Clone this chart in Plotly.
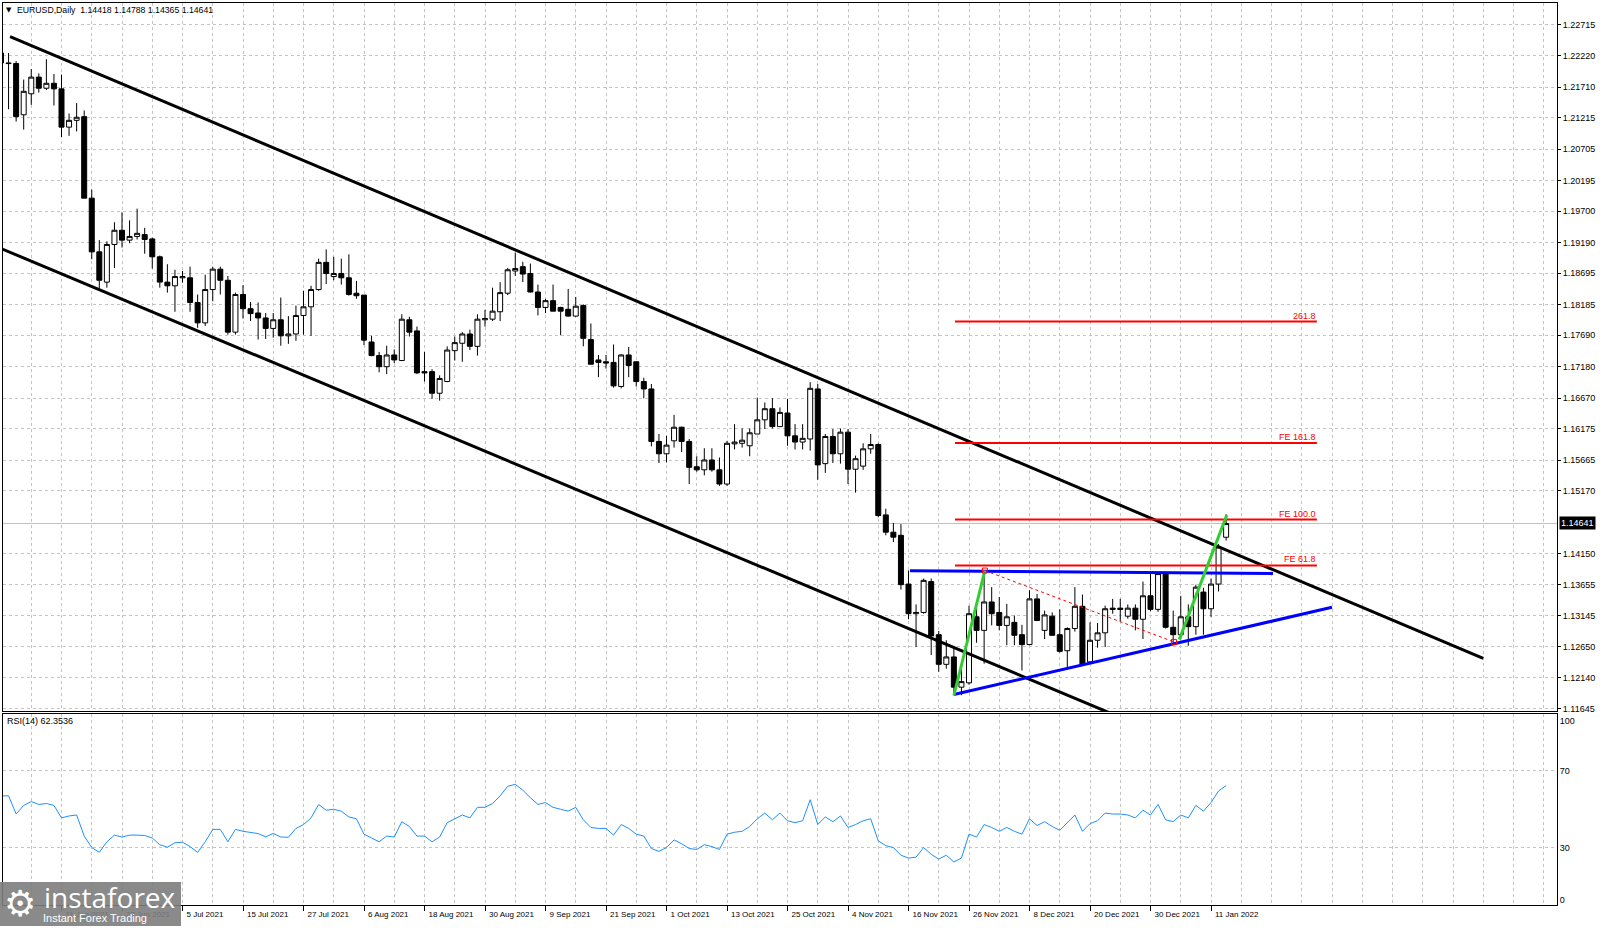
import pandas as pd
import plotly.graph_objects as go

# ---------------- data ----------------
dates = [d.strftime("%Y-%m-%d") for d in pd.bdate_range("2021-06-01", "2022-01-13")]

opens = [1.2226, 1.2210, 1.2209, 1.2126, 1.2160, 1.2187, 1.2169, 1.2177, 1.2168, 1.2106,
         1.2117, 1.2123, 1.1991, 1.1904, 1.1855, 1.1916, 1.1939, 1.1923, 1.1929, 1.1932,
         1.1925, 1.1896, 1.1855, 1.1849, 1.1862, 1.1862, 1.1822, 1.1789, 1.1843, 1.1876,
         1.1858, 1.1774, 1.1835, 1.1812, 1.1805, 1.1797, 1.1780, 1.1794, 1.1768, 1.1771,
         1.1801, 1.1815, 1.1843, 1.1887, 1.1864, 1.1869, 1.1862, 1.1837, 1.1834, 1.1758,
         1.1736, 1.1718, 1.1737, 1.1728, 1.1794, 1.1776, 1.1710, 1.1710, 1.1675, 1.1694,
         1.1744, 1.1756, 1.1771, 1.1751, 1.1794, 1.1795, 1.1807, 1.1837, 1.1873, 1.1880,
         1.1869, 1.1839, 1.1814, 1.1825, 1.1814, 1.1811, 1.1800, 1.1817, 1.1762, 1.1729,
         1.1726, 1.1725, 1.1686, 1.1737, 1.1726, 1.1694, 1.1682, 1.1597, 1.1577, 1.1598,
         1.1620, 1.1597, 1.1556, 1.1551, 1.1567, 1.1551, 1.1528, 1.1593, 1.1594, 1.1590,
         1.1609, 1.1632, 1.1650, 1.1621, 1.1643, 1.1606, 1.1596, 1.1601, 1.1682, 1.1561,
         1.1605, 1.1577, 1.1612, 1.1552, 1.1557, 1.1585, 1.1592, 1.1478, 1.1450, 1.1445,
         1.1366, 1.1318, 1.1320, 1.1370, 1.1284, 1.1236, 1.1248, 1.1199, 1.1206, 1.1313,
         1.1291, 1.1337, 1.1320, 1.1299, 1.1304, 1.1284, 1.1268, 1.1342, 1.1291, 1.1314,
         1.1284, 1.1258, 1.1294, 1.1330, 1.1240, 1.1275, 1.1287, 1.1327, 1.1327, 1.1314,
         1.1327, 1.1309, 1.1347, 1.1325, 1.1383, 1.1296, 1.1284, 1.1313, 1.1297, 1.1353,
         1.1326, 1.1366, 1.14418]

highs = [1.2253, 1.2226, 1.2213, 1.2183, 1.2200, 1.2193, 1.2216, 1.2192, 1.2191, 1.2128,
         1.2145, 1.2133, 1.2005, 1.1923, 1.1921, 1.1952, 1.1968, 1.1955, 1.1974, 1.1943,
         1.1927, 1.1898, 1.1884, 1.1875, 1.1873, 1.1880, 1.1835, 1.1867, 1.1880, 1.1880,
         1.1865, 1.1838, 1.1850, 1.1823, 1.1822, 1.1805, 1.1805, 1.1830, 1.1800, 1.1817,
         1.1841, 1.1849, 1.1893, 1.1908, 1.1896, 1.1893, 1.1900, 1.1857, 1.1834, 1.1768,
         1.1742, 1.1752, 1.1746, 1.1803, 1.1799, 1.1783, 1.1742, 1.1714, 1.1704, 1.1751,
         1.1767, 1.1774, 1.1778, 1.1803, 1.1810, 1.1846, 1.1855, 1.1878, 1.1903, 1.1888,
         1.1885, 1.1851, 1.1828, 1.1851, 1.1815, 1.1844, 1.1831, 1.1819, 1.1788, 1.1737,
         1.1737, 1.1754, 1.1738, 1.1750, 1.1727, 1.1700, 1.1690, 1.1609, 1.1606, 1.1640,
         1.1621, 1.1601, 1.1573, 1.1586, 1.1586, 1.1571, 1.1598, 1.1625, 1.1618, 1.1618,
         1.1668, 1.1660, 1.1667, 1.1652, 1.1666, 1.1625, 1.1625, 1.1693, 1.1690, 1.1609,
         1.1617, 1.1618, 1.1617, 1.1574, 1.1594, 1.1609, 1.1594, 1.1488, 1.1465, 1.1463,
         1.1388, 1.1333, 1.1375, 1.1375, 1.1290, 1.1275, 1.1264, 1.1228, 1.1331, 1.1330,
         1.1386, 1.1361, 1.1345, 1.1334, 1.1315, 1.1300, 1.1356, 1.1350, 1.1323, 1.1320,
         1.1325, 1.1296, 1.1361, 1.1349, 1.1304, 1.1303, 1.1331, 1.1342, 1.1342, 1.1333,
         1.1333, 1.1370, 1.1386, 1.1386, 1.1386, 1.1323, 1.1347, 1.1333, 1.1365, 1.1360,
         1.1375, 1.1431, 1.14788]

lows = [1.2204, 1.2135, 1.2115, 1.2102, 1.2142, 1.2162, 1.2166, 1.2141, 1.2090, 1.2092,
        1.2099, 1.1991, 1.1892, 1.1843, 1.1846, 1.1878, 1.1911, 1.1918, 1.1924, 1.1901,
        1.1877, 1.1846, 1.1838, 1.1807, 1.1854, 1.1807, 1.1781, 1.1784, 1.1824, 1.1835,
        1.1770, 1.1770, 1.1796, 1.1792, 1.1762, 1.1763, 1.1765, 1.1752, 1.1755, 1.1760,
        1.1770, 1.1768, 1.1841, 1.1852, 1.1858, 1.1851, 1.1833, 1.1828, 1.1753, 1.1735,
        1.1709, 1.1706, 1.1724, 1.1728, 1.1767, 1.1706, 1.1694, 1.1666, 1.1663, 1.1693,
        1.1728, 1.1726, 1.1745, 1.1736, 1.1783, 1.1792, 1.1792, 1.1834, 1.1865, 1.1855,
        1.1838, 1.1801, 1.1805, 1.1808, 1.1769, 1.1799, 1.1799, 1.1751, 1.1722, 1.1701,
        1.1715, 1.1684, 1.1683, 1.1701, 1.1686, 1.1667, 1.1589, 1.1562, 1.1563, 1.1587,
        1.1580, 1.1528, 1.1548, 1.1542, 1.1548, 1.1525, 1.1525, 1.1584, 1.1587, 1.1573,
        1.1609, 1.1617, 1.1618, 1.1621, 1.1590, 1.1584, 1.1584, 1.1582, 1.1535, 1.1546,
        1.1562, 1.1561, 1.1528, 1.1514, 1.1551, 1.1577, 1.1474, 1.1445, 1.1434, 1.1357,
        1.1309, 1.1264, 1.1318, 1.1251, 1.1224, 1.1229, 1.1186, 1.1186, 1.1203, 1.1271,
        1.1237, 1.1299, 1.1291, 1.1267, 1.1267, 1.1226, 1.1267, 1.1306, 1.1277, 1.1283,
        1.1255, 1.1228, 1.1289, 1.1236, 1.1237, 1.1263, 1.1264, 1.1318, 1.1306, 1.1310,
        1.1291, 1.1277, 1.1322, 1.1321, 1.1294, 1.1271, 1.1277, 1.1266, 1.1284, 1.1284,
        1.1313, 1.1354, 1.14365]

closes = [1.2210, 1.2209, 1.2123, 1.2164, 1.2187, 1.2169, 1.2177, 1.2168, 1.2106, 1.2117,
          1.2122, 1.1991, 1.1904, 1.1858, 1.1916, 1.1939, 1.1923, 1.1929, 1.1934, 1.1924,
          1.1896, 1.1855, 1.1849, 1.1864, 1.1864, 1.1822, 1.1789, 1.1843, 1.1876, 1.1858,
          1.1774, 1.1835, 1.1812, 1.1804, 1.1797, 1.1780, 1.1794, 1.1768, 1.1771, 1.1801,
          1.1815, 1.1843, 1.1887, 1.1869, 1.1869, 1.1862, 1.1835, 1.1833, 1.1761, 1.1736,
          1.1718, 1.1737, 1.1729, 1.1795, 1.1774, 1.1708, 1.1708, 1.1675, 1.1699, 1.1745,
          1.1757, 1.1771, 1.1751, 1.1795, 1.1796, 1.1808, 1.1838, 1.1875, 1.1877, 1.1868,
          1.1839, 1.1814, 1.1825, 1.1808, 1.1808, 1.1800, 1.1816, 1.1764, 1.1722, 1.1725,
          1.1724, 1.1687, 1.1737, 1.1720, 1.1694, 1.1682, 1.1597, 1.1577, 1.1591, 1.1620,
          1.1597, 1.1555, 1.1551, 1.1567, 1.1551, 1.1528, 1.1594, 1.1596, 1.1599, 1.1611,
          1.1632, 1.1650, 1.1621, 1.1644, 1.1606, 1.1596, 1.1602, 1.1683, 1.1559, 1.1605,
          1.1577, 1.1612, 1.1552, 1.1569, 1.1585, 1.1592, 1.1477, 1.1450, 1.1442, 1.1365,
          1.1318, 1.1320, 1.1372, 1.1282, 1.1236, 1.1248, 1.1199, 1.1208, 1.1318, 1.1291,
          1.1337, 1.1318, 1.1299, 1.1313, 1.1283, 1.1268, 1.1342, 1.1307, 1.1316, 1.1283,
          1.1257, 1.1294, 1.1330, 1.1236, 1.1275, 1.1287, 1.1326, 1.1325, 1.1325, 1.1327,
          1.1309, 1.1347, 1.1325, 1.1383, 1.1296, 1.1284, 1.1313, 1.1297, 1.1361, 1.1326,
          1.1366, 1.1426, 1.14641]

rsi_values = [57.0, 57.0, 47.5, 52.0, 54.0, 52.5, 53.0, 52.0, 45.5, 46.5,
              47.0, 36.0, 30.0, 27.5, 33.0, 36.5, 35.5, 36.5, 36.5, 36.3,
              35.0, 31.5, 30.2, 32.5, 32.8, 30.5, 27.5, 33.0, 39.5, 39.5,
              33.0, 39.5, 38.5, 37.8, 37.3, 35.6, 37.4, 35.5, 35.4, 40.0,
              42.0, 45.5, 52.5, 49.5, 50.0, 49.0, 46.0, 45.0, 37.0, 35.0,
              33.0, 36.0, 35.5, 43.5, 41.0, 36.0, 36.0, 33.0, 35.5, 43.0,
              45.0, 47.0, 45.5, 51.0, 51.0, 53.0, 57.0, 62.0, 63.0, 60.0,
              56.0, 52.5, 53.5, 51.0, 50.0, 49.0, 51.0, 44.5, 40.5, 40.0,
              40.0, 36.5, 42.0, 40.0, 37.0, 36.0, 29.5, 28.0, 30.0, 34.0,
              32.0, 29.5, 29.0, 31.5, 30.5, 29.0, 37.0, 38.0, 38.5, 41.0,
              45.0, 48.0, 44.5, 48.0, 44.0, 43.0, 44.0, 55.0, 42.0, 46.0,
              43.5, 46.5, 40.5, 42.0, 44.0, 45.0, 33.5, 31.0, 30.0, 26.0,
              24.5, 25.0, 30.0, 26.5, 24.0, 26.0, 22.5, 24.5, 37.0, 35.5,
              42.0, 40.5, 38.5, 40.5, 38.5, 37.0, 45.0, 41.5, 43.5, 41.0,
              39.0, 43.0, 47.0, 38.5, 42.5, 44.0, 48.0, 47.5, 47.5, 47.0,
              45.5, 49.5, 47.0, 52.5, 44.5, 43.5, 47.0, 45.5, 52.0, 49.0,
              53.5, 59.5, 62.35]

price_tick_labels = ["1.22715", "1.22220", "1.21710", "1.21215", "1.20705", "1.20195",
                     "1.19700", "1.19190", "1.18695", "1.18185", "1.17690", "1.17180",
                     "1.16670", "1.16175", "1.15665", "1.15170", "1.14150", "1.13655",
                     "1.13145", "1.12650", "1.12140", "1.11645"]
rsi_tick_labels = ["100", "70", "30", "0"]
date_tick_dates = ["2021-06-01", "2021-06-11", "2021-06-23", "2021-07-05", "2021-07-15",
                   "2021-07-27", "2021-08-06", "2021-08-18", "2021-08-30", "2021-09-09",
                   "2021-09-21", "2021-10-01", "2021-10-13", "2021-10-25", "2021-11-04",
                   "2021-11-16", "2021-11-26", "2021-12-08", "2021-12-20", "2021-12-30",
                   "2022-01-11"]
date_tick_labels = ["1 Jun 2021", "11 Jun 2021", "23 Jun 2021", "5 Jul 2021", "15 Jul 2021",
                    "27 Jul 2021", "6 Aug 2021", "18 Aug 2021", "30 Aug 2021", "9 Sep 2021",
                    "21 Sep 2021", "1 Oct 2021", "13 Oct 2021", "25 Oct 2021", "4 Nov 2021",
                    "16 Nov 2021", "26 Nov 2021", "8 Dec 2021", "20 Dec 2021", "30 Dec 2021",
                    "11 Jan 2022"]

# chart drawings (anchored in bar index / price)
channel_upper_bars = [1.2, 196.0]
channel_upper_prices = [1.22526, 1.12455]
channel_lower_bars = [0.09, 152.0]
channel_lower_prices = [1.19090, 1.11297]
blue_top_bars = [120.2, 168.2]
blue_top_prices = [1.13875, 1.13833]
blue_low_bars = [126.0, 176.0]
blue_low_prices = [1.11871, 1.13284]
green_leg1_bars = [126.0, 130.1]
green_leg1_prices = [1.11855, 1.13879]
green_leg2_bars = [155.8, 162.1]
green_leg2_prices = [1.12760, 1.14780]
red_dash_bars = [130.1, 155.1]
red_dash_prices = [1.13879, 1.12723]
fib_bars = [126.15, 174.0]
fib_levels = [1.17911, 1.15944, 1.14704, 1.13961]
fib_labels = ["261.8", "FE 161.8", "FE 100.0", "FE 61.8"]
last_price = 1.14641
rsi_label = "RSI(14) 62.3536"
header_text = "EURUSD,Daily  1.14418 1.14788 1.14365 1.14641"

# ---------------- geometry (pixels of the 1600x928 page) ----------------
W, H = 1600, 928
BAR_PX, BAR0_PX = 7.5625, 1.0
P_REF, P_REF_PX, PX_PER_PRICE = 1.22715, 25.0, 6188.0
MAIN_L, MAIN_R, MAIN_T, MAIN_B = 2.7, 1557.0, 3.0, 713.0
RSI_T, RSI_B, RSI_PX_PER_UNIT = 716.0, 907.0, 1.92


def bar_at(px):
    return (px - BAR0_PX) / BAR_PX


def price_at(py):
    return P_REF - (py - P_REF_PX) / PX_PER_PRICE


def rsi_at(py):
    return (RSI_B - py) / RSI_PX_PER_UNIT


def fx(px):
    return px / W


def fy(py):
    return 1 - py / H


bar_idx = list(range(len(dates)))
date_tick_vals = [dates.index(d) for d in date_tick_dates]
grid_all = list(range(0, 208, 4))
grid_minor = [g for g in grid_all if g not in date_tick_vals]
price_tick_vals = [float(s) for s in price_tick_labels]
rsi_tick_pos = [rsi_at(722), 70, 30, rsi_at(902)]

GRID = "#c4c4c4"
DASH = "3px,3px"
FONT = "Liberation Sans, Arial, sans-serif"

fig = go.Figure()

fig.add_trace(go.Candlestick(
    x=bar_idx, open=opens, high=highs, low=lows, close=closes,
    xaxis="x", yaxis="y", whiskerwidth=0,
    increasing=dict(fillcolor="white", line=dict(color="black", width=1)),
    decreasing=dict(fillcolor="black", line=dict(color="black", width=1)),
    hoverinfo="skip", showlegend=False))


def add_line(bx, py, color, width, dash="solid"):
    fig.add_trace(go.Scatter(x=bx, y=py, mode="lines", xaxis="x", yaxis="y",
                             line=dict(color=color, width=width, dash=dash),
                             hoverinfo="skip", showlegend=False))


add_line(channel_upper_bars, channel_upper_prices, "black", 3)
add_line(channel_lower_bars, channel_lower_prices, "black", 3)
for lvl in fib_levels:
    add_line(fib_bars, [lvl, lvl], "#ff0000", 2)
add_line(blue_top_bars, blue_top_prices, "#0000ff", 3)
add_line(blue_low_bars, blue_low_prices, "#0000ff", 3)
add_line(red_dash_bars, red_dash_prices, "#ff0000", 1, "3px,3px")
add_line(green_leg1_bars, green_leg1_prices, "#32cd32", 3)
add_line(green_leg2_bars, green_leg2_prices, "#32cd32", 3)
fig.add_trace(go.Scatter(x=red_dash_bars, y=red_dash_prices, mode="markers",
                         marker=dict(symbol="square-open", size=5, color="#ff0000", line=dict(width=1)),
                         xaxis="x", yaxis="y", hoverinfo="skip", showlegend=False))

fig.add_trace(go.Scatter(x=bar_idx, y=rsi_values, mode="lines", xaxis="x2", yaxis="y2",
                         line=dict(color="#1e90ff", width=1), hoverinfo="skip", showlegend=False))

xrange = [bar_at(MAIN_L), bar_at(MAIN_R)]
common_x = dict(domain=[fx(MAIN_L), fx(MAIN_R)], range=xrange, showline=True, mirror=True,
                linecolor="black", linewidth=1, zeroline=False, tickmode="array",
                tickvals=date_tick_vals, showgrid=True, gridcolor=GRID, griddash=DASH, gridwidth=1,
                minor=dict(tickmode="array", tickvals=grid_minor, showgrid=True, gridcolor=GRID,
                           griddash=DASH, gridwidth=1, ticks=""),
                fixedrange=True)

fig.update_layout(
    width=W, height=H, margin=dict(l=0, r=0, t=0, b=0),
    paper_bgcolor="white", plot_bgcolor="white", showlegend=False,
    font=dict(family=FONT, size=9, color="black"),
    boxgap=0.34, boxgroupgap=0,
    xaxis=dict(**common_x, anchor="y", showticklabels=False, ticks="",
               rangeslider=dict(visible=False)),
    yaxis=dict(domain=[fy(MAIN_B), fy(MAIN_T)], range=[price_at(MAIN_B), price_at(MAIN_T)],
               side="right", anchor="x", tickmode="array", tickvals=price_tick_vals,
               ticktext=price_tick_labels, ticks="outside", ticklen=3, tickcolor="black",
               showline=True, mirror=True, linecolor="black", linewidth=1, zeroline=False,
               showgrid=True, gridcolor=GRID, griddash=DASH, gridwidth=1,
               tickfont=dict(family=FONT, size=9, color="black"), fixedrange=True),
    xaxis2=dict(**common_x, anchor="y2", ticktext=date_tick_labels, ticks="outside", ticklen=5,
                tickcolor="black", ticklabelposition="outside right", ticklabelstandoff=1,
                ticklabelshift=3,
                tickfont=dict(family=FONT, size=8, color="black")),
    yaxis2=dict(domain=[fy(RSI_B), fy(RSI_T)], range=[0, rsi_at(RSI_T)], side="right",
                anchor="x2", tickmode="array", tickvals=rsi_tick_pos, ticktext=rsi_tick_labels,
                ticks="", showline=True, mirror=True, linecolor="black", linewidth=1,
                zeroline=False, showgrid=False,
                minor=dict(tickmode="array", tickvals=[30, 70], showgrid=True, gridcolor=GRID,
                           griddash=DASH, gridwidth=1, ticks=""),
                tickfont=dict(family=FONT, size=9, color="black"), fixedrange=True),
)

shapes = [
    dict(type="line", xref="x domain", yref="y", x0=0, x1=1, y0=last_price, y1=last_price,
         line=dict(color="#c0c0c0", width=1), layer="below"),
    dict(type="rect", xref="paper", yref="paper", x0=0, x1=fx(181), y0=0, y1=fy(884),
         fillcolor="#7d7d7d", opacity=0.9, line=dict(width=0), layer="above"),
]
fig.update_layout(shapes=shapes)

ann = []
for lvl, txt in zip(fib_levels, fib_labels):
    ann.append(dict(x=fib_bars[1], y=lvl, xref="x", yref="y", text=txt, showarrow=False,
                    xanchor="right", yanchor="bottom", borderpad=0,
                    font=dict(family=FONT, size=9, color="#ff0000")))
ann.append(dict(x=fx(1559), y=last_price, xref="paper", yref="y", text=f"{last_price:.5f}",
                showarrow=False, xanchor="left", yanchor="middle", bgcolor="black", borderpad=1,
                font=dict(family=FONT, size=9, color="white")))
ann.append(dict(x=fx(4), y=fy(10), xref="paper", yref="paper", text="▼", showarrow=False,
                xanchor="left", yanchor="middle", font=dict(family="DejaVu Sans", size=7, color="black")))
ann.append(dict(x=fx(15), y=fy(10), xref="paper", yref="paper", text=header_text, showarrow=False,
                xanchor="left", yanchor="middle", font=dict(family=FONT, size=8.7, color="black")))
ann.append(dict(x=fx(5), y=fy(723), xref="paper", yref="paper", text=rsi_label, showarrow=False,
                xanchor="left", yanchor="middle", font=dict(family=FONT, size=9, color="black")))
ann.append(dict(x=fx(2), y=fy(905), xref="paper", yref="paper", text="⚙", showarrow=False,
                xanchor="left", yanchor="middle", font=dict(family="DejaVu Sans", size=36, color="white")))
ann.append(dict(x=fx(42), y=fy(899), xref="paper", yref="paper", text="instaforex", showarrow=False,
                xanchor="left", yanchor="middle", font=dict(family="Open Sans", size=28, color="white")))
ann.append(dict(x=fx(41), y=fy(920), xref="paper", yref="paper", text="Instant Forex Trading",
                showarrow=False, xanchor="left", yanchor="middle",
                font=dict(family=FONT, size=11, color="white")))
fig.update_layout(annotations=ann)

fig.write_html("out.html")
